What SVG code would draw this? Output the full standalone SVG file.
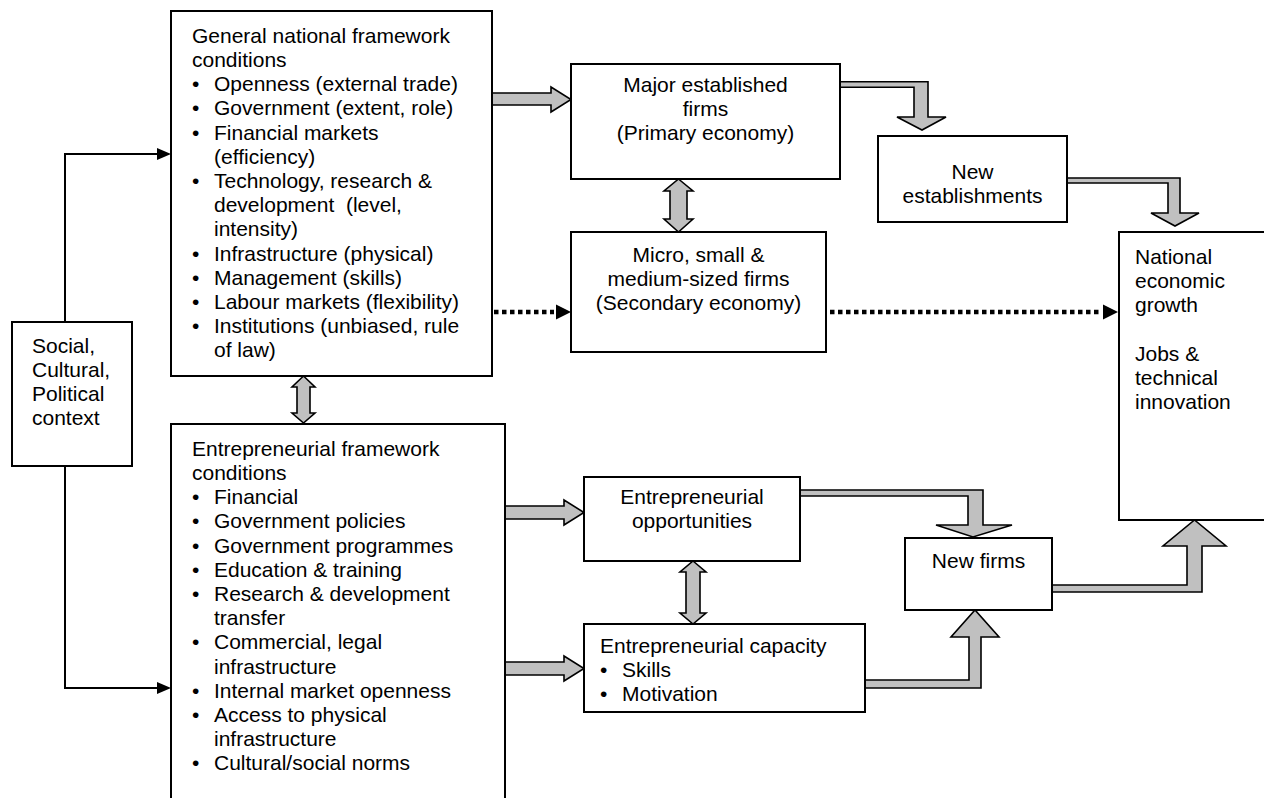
<svg xmlns="http://www.w3.org/2000/svg" width="1264" height="798" viewBox="0 0 1264 798">
<style>
.box{fill:#fff;stroke:#000;stroke-width:2}
.t{font-family:"Liberation Sans",Arial,sans-serif;font-size:21px;fill:#000}
.c{text-anchor:middle}
.ha{fill:#c0c0c0;stroke:#000;stroke-width:1.6;stroke-linejoin:miter}
.ln{fill:none;stroke:#000;stroke-width:2}
.dot{fill:none;stroke:#000;stroke-width:4.5;stroke-dasharray:4.5 3.5}
</style>
<rect width="1264" height="798" fill="#fff"/>
<g id="connectors">
  <path class="ln" d="M65,322 V154 H158"/>
  <polygon points="157,148 171,154 157,160"/>
  <path class="ln" d="M65,466 V688 H158"/>
  <polygon points="157,682 171,688 157,694"/>
  <polygon class="ha" points="492,93 551,93 551,87 571,99.5 551,112 551,105 492,105"/>
  <polygon class="ha" points="505,506 564,506 564,500 584,512.5 564,525 564,519 505,519"/>
  <polygon class="ha" points="505,662 564,662 564,656 584,668.5 564,681 564,675 505,675"/>
  <polygon class="ha" points="840,81.7 928,81.7 928,117 946,117 922,130 897,117 914,117 914,87.3 840,87.3"/>
  <polygon class="ha" points="1067,178 1180,178 1180,213 1199,213 1175,226 1151,213 1168,213 1168,183 1067,183"/>
  <polygon class="ha" points="800,490 983,490 983,525 1012,525 973,537 936,525 968,525 968,496 800,496"/>
  <polygon class="ha" points="1052,585 1187,585 1187,546 1163,546 1194.5,520 1226,546 1202,546 1202,592 1052,592"/>
  <polygon class="ha" points="865,680 969,680 969,637 951,637 975,610 999,637 981,637 981,688 865,688"/>
  <polygon class="ha" points="303.5,376 315,387 310,387 310,413 315,413 303.5,423 292,413 297,413 297,387 292,387"/>
  <polygon class="ha" points="678.5,179 693,191 687,191 687,219 693,219 678.5,232 664,219 670,219 670,191 664,191"/>
  <polygon class="ha" points="693,561 706,572 700,572 700,613 706,613 693,624 680,613 686,613 686,572 680,572"/>
  <path class="dot" d="M494,312 H554"/>
  <polygon points="556,304.5 571,312 556,319.5"/>
  <path class="dot" d="M830,312 H1101"/>
  <polygon points="1103,304.5 1118,312 1103,319.5"/>
</g>
<g id="social">
  <rect class="box" x="12" y="322" width="120" height="144"/>
  <text class="t" x="32" y="352.7">Social,</text>
  <text class="t" x="32" y="376.9">Cultural,</text>
  <text class="t" x="32" y="401.1">Political</text>
  <text class="t" x="32" y="425.3">context</text>
</g>
<g id="general">
  <rect class="box" x="171" y="11" width="321" height="365"/>
  <text class="t" x="192" y="42.7">General national framework</text>
  <text class="t" x="192" y="66.9">conditions</text>
  <text class="t" x="192" y="91.1">•</text><text class="t" x="214" y="91.1">Openness (external trade)</text>
  <text class="t" x="192" y="115.3">•</text><text class="t" x="214" y="115.3">Government (extent, role)</text>
  <text class="t" x="192" y="139.5">•</text><text class="t" x="214" y="139.5">Financial markets</text>
  <text class="t" x="214" y="163.7">(efficiency)</text>
  <text class="t" x="192" y="187.9">•</text><text class="t" x="214" y="187.9">Technology, research &amp;</text>
  <text class="t" x="214" y="212.1" xml:space="preserve">development  (level,</text>
  <text class="t" x="214" y="236.3">intensity)</text>
  <text class="t" x="192" y="260.5">•</text><text class="t" x="214" y="260.5">Infrastructure (physical)</text>
  <text class="t" x="192" y="284.7">•</text><text class="t" x="214" y="284.7">Management (skills)</text>
  <text class="t" x="192" y="308.9">•</text><text class="t" x="214" y="308.9">Labour markets (flexibility)</text>
  <text class="t" x="192" y="333.1">•</text><text class="t" x="214" y="333.1">Institutions (unbiased, rule</text>
  <text class="t" x="214" y="357.3">of law)</text>
</g>
<g id="entrepreneurial-framework">
  <rect class="box" x="171" y="424" width="334" height="390"/>
  <text class="t" x="192" y="455.7">Entrepreneurial framework</text>
  <text class="t" x="192" y="479.9">conditions</text>
  <text class="t" x="192" y="504.1">•</text><text class="t" x="214" y="504.1">Financial</text>
  <text class="t" x="192" y="528.3">•</text><text class="t" x="214" y="528.3">Government policies</text>
  <text class="t" x="192" y="552.5">•</text><text class="t" x="214" y="552.5">Government programmes</text>
  <text class="t" x="192" y="576.7">•</text><text class="t" x="214" y="576.7">Education &amp; training</text>
  <text class="t" x="192" y="600.9">•</text><text class="t" x="214" y="600.9">Research &amp; development</text>
  <text class="t" x="214" y="625.1">transfer</text>
  <text class="t" x="192" y="649.3">•</text><text class="t" x="214" y="649.3">Commercial, legal</text>
  <text class="t" x="214" y="673.5">infrastructure</text>
  <text class="t" x="192" y="697.7">•</text><text class="t" x="214" y="697.7">Internal market openness</text>
  <text class="t" x="192" y="721.9">•</text><text class="t" x="214" y="721.9">Access to physical</text>
  <text class="t" x="214" y="746.1">infrastructure</text>
  <text class="t" x="192" y="770.3">•</text><text class="t" x="214" y="770.3">Cultural/social norms</text>
</g>
<g id="major-firms">
  <rect class="box" x="571" y="64" width="269" height="115"/>
  <text class="t c" x="705.5" y="92">Major established</text>
  <text class="t c" x="705.5" y="116.2">firms</text>
  <text class="t c" x="705.5" y="140.4">(Primary economy)</text>
</g>
<g id="micro-firms">
  <rect class="box" x="571" y="232" width="255" height="120"/>
  <text class="t c" x="698.5" y="262">Micro, small &amp;</text>
  <text class="t c" x="698.5" y="286.2">medium-sized firms</text>
  <text class="t c" x="698.5" y="310.4">(Secondary economy)</text>
</g>
<g id="new-establishments">
  <rect class="box" x="878" y="136" width="189" height="86"/>
  <text class="t c" x="972.5" y="179">New</text>
  <text class="t c" x="972.5" y="203.2">establishments</text>
</g>
<g id="national-growth">
  <rect class="box" x="1119" y="232" width="160" height="288"/>
  <text class="t" x="1135" y="264">National</text>
  <text class="t" x="1135" y="288.2">economic</text>
  <text class="t" x="1135" y="312.4">growth</text>
  <text class="t" x="1135" y="360.8">Jobs &amp;</text>
  <text class="t" x="1135" y="385">technical</text>
  <text class="t" x="1135" y="409.2">innovation</text>
</g>
<g id="opportunities">
  <rect class="box" x="584" y="477" width="216" height="84"/>
  <text class="t c" x="692" y="504">Entrepreneurial</text>
  <text class="t c" x="692" y="528.2">opportunities</text>
</g>
<g id="new-firms">
  <rect class="box" x="905" y="538" width="147" height="72"/>
  <text class="t c" x="978.5" y="568">New firms</text>
</g>
<g id="capacity">
  <rect class="box" x="584" y="624" width="281" height="88"/>
  <text class="t" x="600" y="653">Entrepreneurial capacity</text>
  <text class="t" x="600" y="677.2">•</text><text class="t" x="622" y="677.2">Skills</text>
  <text class="t" x="600" y="701.4">•</text><text class="t" x="622" y="701.4">Motivation</text>
</g>
</svg>
